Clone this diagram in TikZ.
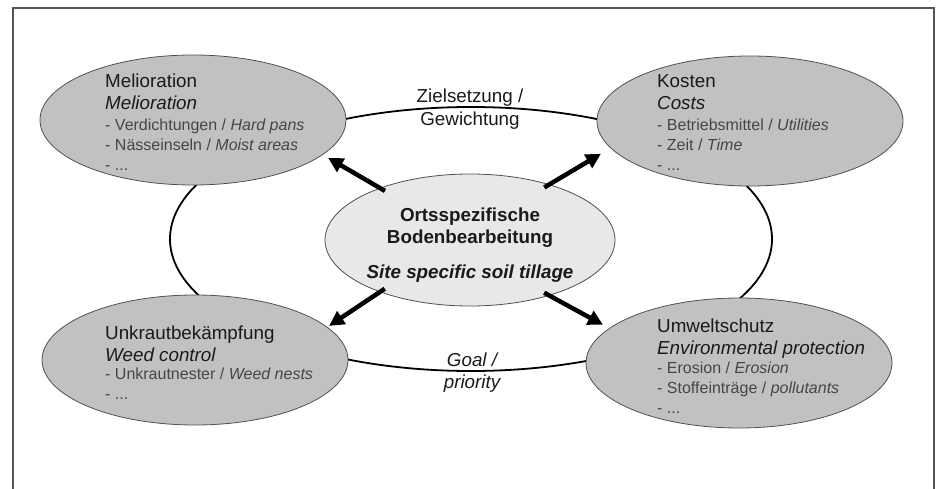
\documentclass[tikz,border=0pt]{standalone}
\usepackage{fontspec}
\setmainfont{Liberation Sans}
\usetikzlibrary{arrows.meta,shapes.geometric}
\definecolor{outerfill}{HTML}{C1C1C1}
\definecolor{innerfill}{HTML}{E8E8E8}
\definecolor{edgegray}{HTML}{505050}
\definecolor{itemgray}{HTML}{464646}
\definecolor{titleblack}{HTML}{1A1A1A}
\definecolor{framegray}{HTML}{555555}
\begin{document}
\begin{tikzpicture}[x=1pt,y=-1pt,
  outerell/.style={ellipse, draw=edgegray, line width=0.8pt, fill=outerfill, minimum width=306pt, minimum height=130pt, inner sep=0pt},
  innerell/.style={ellipse, draw=edgegray, line width=0.8pt, fill=innerfill, minimum width=290pt, minimum height=132pt, inner sep=0pt},
  loopell/.style={ellipse, draw=black, line width=1.8pt, minimum width=602pt, minimum height=264pt, inner sep=0pt},
  ttl/.style={anchor=base west, inner sep=0pt, text=titleblack, font=\fontsize{18.8}{22}\selectfont},
  ttli/.style={ttl, font=\fontsize{18.8}{22}\selectfont\itshape},
  itm/.style={anchor=base west, inner sep=0pt, text=itemgray, font=\fontsize{16}{20}\selectfont},
  ctr/.style={anchor=base, inner sep=0pt, text=titleblack, font=\fontsize{18.8}{22}\selectfont\bfseries},
  lbl/.style={anchor=base, inner sep=0pt, text=titleblack, font=\fontsize{18.8}{22}\selectfont},
  bigarrow/.style={line width=4.5pt, -{Triangle[length=15pt,width=15pt]}},
  framestyle/.style={draw=framegray, line width=1.3pt}]
\useasboundingbox (0,0) rectangle (939,489);
% frame (open at the bottom)
\draw[framestyle] (13,489) -- (13,8) -- (934,8) -- (934,489);
% loop behind the ellipses
\node[loopell] (loop) at (471,239) {};
% ellipses
\node[outerell] (m) at (193,120) {};
\node[outerell] (k) at (750,121) {};
\node[outerell] (u) at (195,360) {};
\node[outerell] (w) at (739,363) {};
\node[innerell] (c) at (470,240) {};
% arrows
\draw[bigarrow, shorten <=-6pt, shorten >=6pt] (c.150.5) -- (m.-15.4);
\draw[bigarrow, shorten <=-6pt, shorten >=11pt] (c.35.8) -- (k.191.7);
\draw[bigarrow, shorten <=-6pt, shorten >=2pt] (c.210) -- (u.14.9);
\draw[bigarrow, shorten <=-6pt, shorten >=7pt] (c.-35.8) -- (w.165.9);
% center text
\node[ctr] (c1) at (470,221) {Ortsspezifische};
\node[ctr] (c2) at (470,243) {Bodenbearbeitung};
\node[ctr, font=\fontsize{18.8}{22}\selectfont\bfseries\itshape] (c3) at (470,278) {Site specific soil tillage};
% Melioration
\node[ttl] (m1) at (105,88) {Melioration};
\node[ttli] (m2) at (105,110) {Melioration};
\node[itm] (m3) at (105,131) {- Verdichtungen / \textit{Hard pans}};
\node[itm] (m4) at (105,151) {- Nässeinseln / \textit{Moist areas}};
\node[itm] (m5) at (105,171) {- ...};
% Kosten
\node[ttl] (k1) at (657,88) {Kosten};
\node[ttli] (k2) at (657,110) {Costs};
\node[itm] (k3) at (657,131) {- Betriebsmittel / \textit{Utilities}};
\node[itm] (k4) at (657,151) {- Zeit / \textit{Time}};
\node[itm] (k5) at (657,171) {- ...};
% Unkraut
\node[ttl] (u1) at (105,339) {Unkrautbekämpfung};
\node[ttli] (u2) at (105,361) {Weed control};
\node[itm] (u3) at (105,379) {- Unkrautnester / \textit{Weed nests}};
\node[itm] (u4) at (105,399) {- ...};
% Umwelt
\node[ttl] (w1) at (657,332) {Umweltschutz};
\node[ttli] (w2) at (657,354) {Environmental protection};
\node[itm] (w3) at (657,373) {- Erosion / \textit{Erosion}};
\node[itm] (w4) at (657,393) {- Stoffeinträge / \textit{pollutants}};
\node[itm] (w5) at (657,413) {- ...};
% loop labels
\node[lbl] (z1) at (470,103) {Zielsetzung /};
\node[lbl] (z2) at (470,126) {Gewichtung};
\node[lbl, font=\fontsize{18.8}{22}\selectfont\itshape] (g1) at (472,366) {Goal /};
\node[lbl, font=\fontsize{18.8}{22}\selectfont\itshape] (g2) at (472,388) {priority};
\end{tikzpicture}
\end{document}
